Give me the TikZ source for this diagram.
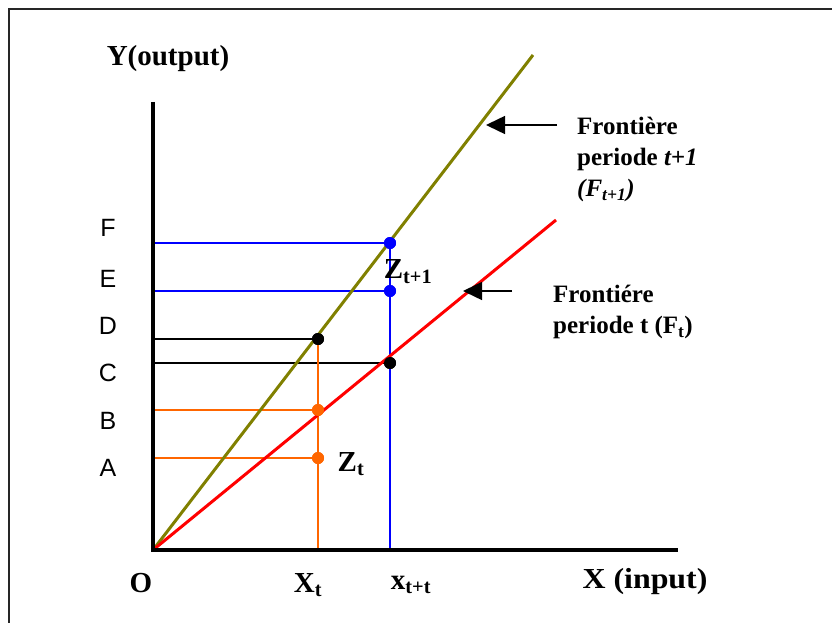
\documentclass[tikz,border=0pt]{standalone}
\usepackage{fontspec}
\setmainfont{Liberation Serif}
\newfontfamily\sansf{Liberation Sans}
\usetikzlibrary{arrows.meta}
\definecolor{olivel}{RGB}{128,128,0}
\definecolor{orangel}{RGB}{255,102,0}
\begin{document}
\begin{tikzpicture}[x=1pt,y=-1pt,
  axis/.style={line width=4pt},
  front/.style={line width=3pt},
  guide/.style={line width=1.4pt},
  dotn/.style={circle,fill=#1,inner sep=0pt,minimum size=12pt},
  big/.style={font=\fontsize{29}{32}\selectfont\bfseries},
  lett/.style={font=\fontsize{25}{27}\selectfont\sansf},
  ftext/.style={font=\fontsize{25}{31}\selectfont\bfseries,align=left,anchor=north west,inner sep=0pt},
  arr/.style={line width=1.5pt,-{Triangle[length=19pt,width=18pt]}}]
\useasboundingbox (0,0) rectangle (832,623);
% frame
\draw[line width=2pt,black!85] (9,623) -- (9,9) -- (832,9);
% key points
\coordinate (O) at (153,550);
\coordinate (ytop) at (153,102);
\coordinate (xend) at (678,550);
\coordinate (gend) at (533,55);
\coordinate (rend) at (556,220);
\node[dotn=blue] (dF) at (390,243) {};
\node[dotn=blue] (dE) at (390,291) {};
\node[dotn=black] (dD) at (318,339) {};
\node[dotn=black] (dC) at (390,363) {};
\node[dotn=orangel] (dB) at (318,410) {};
\node[dotn=orangel] (dA) at (318,458) {};
% guide lines
\draw[guide,blue] (O |- dF) -- (dF.center);
\draw[guide,blue] (O |- dE) -- (dE.center);
\draw[guide,black] (O |- dD) -- (dD.center);
\draw[guide,black] (O |- dC) -- (dC.center);
\draw[guide,orangel] (O |- dB) -- (dB.center);
\draw[guide,orangel] (O |- dA) -- (dA.center);
\draw[guide,orangel] (dD.center) -- (dD |- O);
\draw[guide,blue] (dF.center) -- (dF |- O);
% frontiers
\draw[front,olivel] (O) -- (gend);
\draw[front,red] (O) -- (rend);
% axes
\draw[axis] (ytop) -- (O) -- (xend);
% dots on top
\foreach \n/\c in {dF/blue,dE/blue,dD/black,dC/black,dB/orangel,dA/orangel}
  \fill[\c] (\n) circle (6pt);
% arrows
\coordinate (a1s) at (557,125);
\coordinate (a1e) at (486,125);
\coordinate (a2s) at (512,291);
\coordinate (a2e) at (463,291);
\draw[arr] (a1s) -- (a1e);
\draw[arr] (a2s) -- (a2e);
% frontier labels
\node[ftext] (l1) at (577,117) {Frontière\\periode \textit{t+1}\\\textit{(F\textsubscript{t+1})}};
\node[ftext] (l2) at (553,285) {Frontiére\\periode t (F\textsubscript{t})};
% axis labels
\node[big] (ylab) at (168,59) {Y(output)};
\node[big,xscale=1.1] (xlab) at (645,582) {X (input)};
\node[big] (olab) at (141,583) {O};
\node[big] (xt) at (308,585) {X\textsubscript{t}};
\node[big] (xtt) at (411,585) {x\textsubscript{t+t}};
\node[big] (zt) at (351,464) {Z\textsubscript{t}};
\node[big] (zt1) at (408,272) {Z\textsubscript{t+1}};
% letters
\node[lett] (F) at (108,228) {F};
\node[lett] (E) at (108,279) {E};
\node[lett] (D) at (108,326) {D};
\node[lett] (C) at (108,373) {C};
\node[lett] (B) at (108,421) {B};
\node[lett] (A) at (108,468) {A};
\end{tikzpicture}
\end{document}
